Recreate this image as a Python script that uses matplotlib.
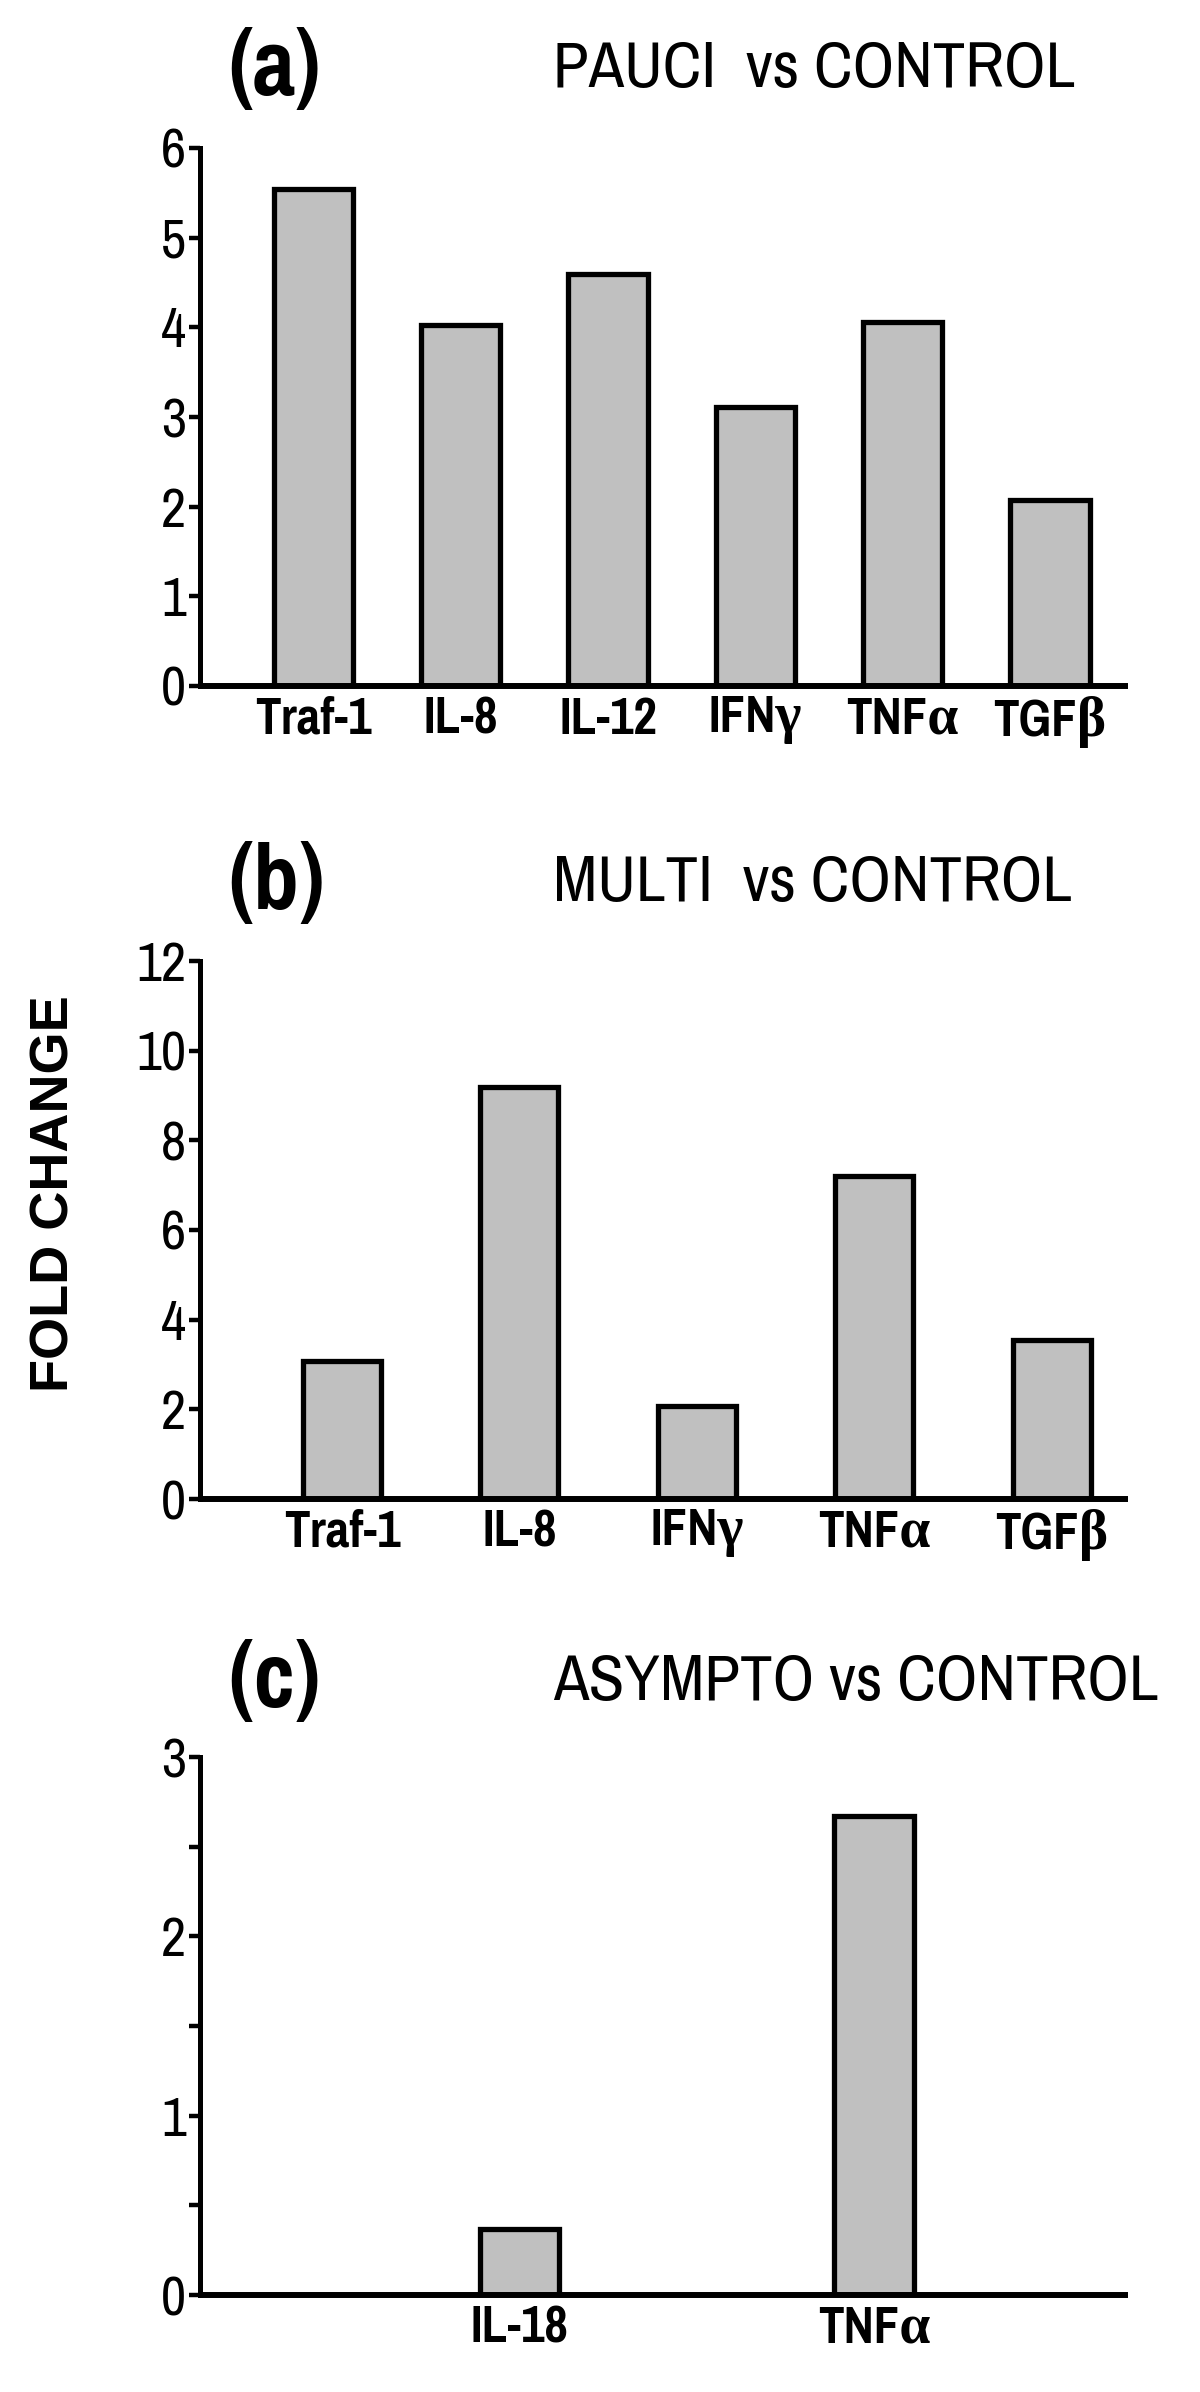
import matplotlib
matplotlib.use("Agg")
import matplotlib.pyplot as plt
from matplotlib.ticker import MultipleLocator
import numpy as np

# ---- data ----
cats_a = ["Traf-1", "IL-8", "IL-12", "IFNγ", "TNFα", "TGFβ"]
vals_a = [5.54, 4.03, 4.60, 3.11, 4.06, 2.07]

cats_b = ["Traf-1", "IL-8", "IFNγ", "TNFα", "TGFβ"]
vals_b = [3.08, 9.18, 2.08, 7.20, 3.55]

cats_c = ["IL-18", "TNFα"]
vals_c = [0.37, 2.67]

titles = ["PAUCI  vs CONTROL", "MULTI  vs CONTROL", "ASYMPTO vs CONTROL"]
letters = ["(a)", "(b)", "(c)"]

W, H = 1200, 2392
fig = plt.figure(figsize=(W / 100, H / 100), dpi=100)

NARROW = ["Pragati Narrow", "Liberation Serif", "DejaVu Sans"]

def fx(px):
    return px / W

def fy(py):
    return 1 - py / H

def make_axes(x0, x1, ytop, ybot):
    return fig.add_axes([fx(x0), fy(ybot), fx(x1) - fx(x0), fy(ytop) - fy(ybot)])

def style(ax, ylim, major, minor=None):
    ax.set_ylim(*ylim)
    for s in ["top", "right"]:
        ax.spines[s].set_visible(False)
    ax.spines["left"].set_linewidth(3.6)
    ax.spines["bottom"].set_linewidth(4.3)
    ax.spines["bottom"].set_capstyle("butt")
    ax.yaxis.set_major_locator(MultipleLocator(major))
    if minor:
        ax.yaxis.set_minor_locator(MultipleLocator(minor))
        ax.tick_params(axis="y", which="minor", length=8, width=3.2, direction="out")
    ax.tick_params(axis="y", which="major", length=8, width=3.2, direction="out", pad=2,
                   labelsize=43)
    ax.tick_params(axis="x", length=0, pad=7)
    for t in ax.get_yticklabels():
        t.set_family(NARROW)
    for t in ax.get_xticklabels():
        t.set_family(NARROW)
        t.set_fontweight("bold")
        t.set_fontsize(40)

BAR = dict(color="#c0c0c0", edgecolor="black", linewidth=3.8)

# panel a
ax1 = make_axes(200, 1128, 148, 686)
x = np.arange(len(cats_a))
ax1.bar(x, vals_a, width=0.54, **BAR)
ax1.set_xticks(x)
ax1.set_xticklabels(cats_a)
ax1.set_xlim(-0.77, 5.53)
style(ax1, (0, 6), 1)

# panel b
ax2 = make_axes(200, 1128, 961, 1499)
x = np.arange(len(cats_b))
ax2.bar(x, vals_b, width=0.44, **BAR)
ax2.set_xticks(x)
ax2.set_xticklabels(cats_b)
ax2.set_xlim(-0.80, 4.43)
style(ax2, (0, 12), 2)

# panel c
ax3 = make_axes(200, 1128, 1757, 2295)
x = np.arange(len(cats_c))
ax3.bar(x, vals_c, width=0.224, **BAR)
ax3.set_xticks(x)
ax3.set_xticklabels(cats_c)
ax3.set_xlim(-0.90, 1.716)
style(ax3, (0, 3), 1, 0.5)

for ax in (ax1, ax2, ax3):
    ax.spines["left"].set_bounds(0, ax.get_ylim()[1])

# letters and titles
letter_y = [69, 883, 1682]
for ly, letter, title in zip(letter_y, letters, titles):
    fig.text(fx(228), fy(ly), letter, fontsize=72, fontweight="bold", family=NARROW,
             ha="left", va="center")
    fig.text(fx(553), fy(ly), title, fontsize=51, family=NARROW, ha="left", va="center")

fig.text(fx(55), fy(1194), "FOLD CHANGE", rotation=90, fontsize=39, fontweight="bold",
         family=["Liberation Sans", "DejaVu Sans"], ha="center", va="center")

fig.savefig("out.png", dpi=100)
